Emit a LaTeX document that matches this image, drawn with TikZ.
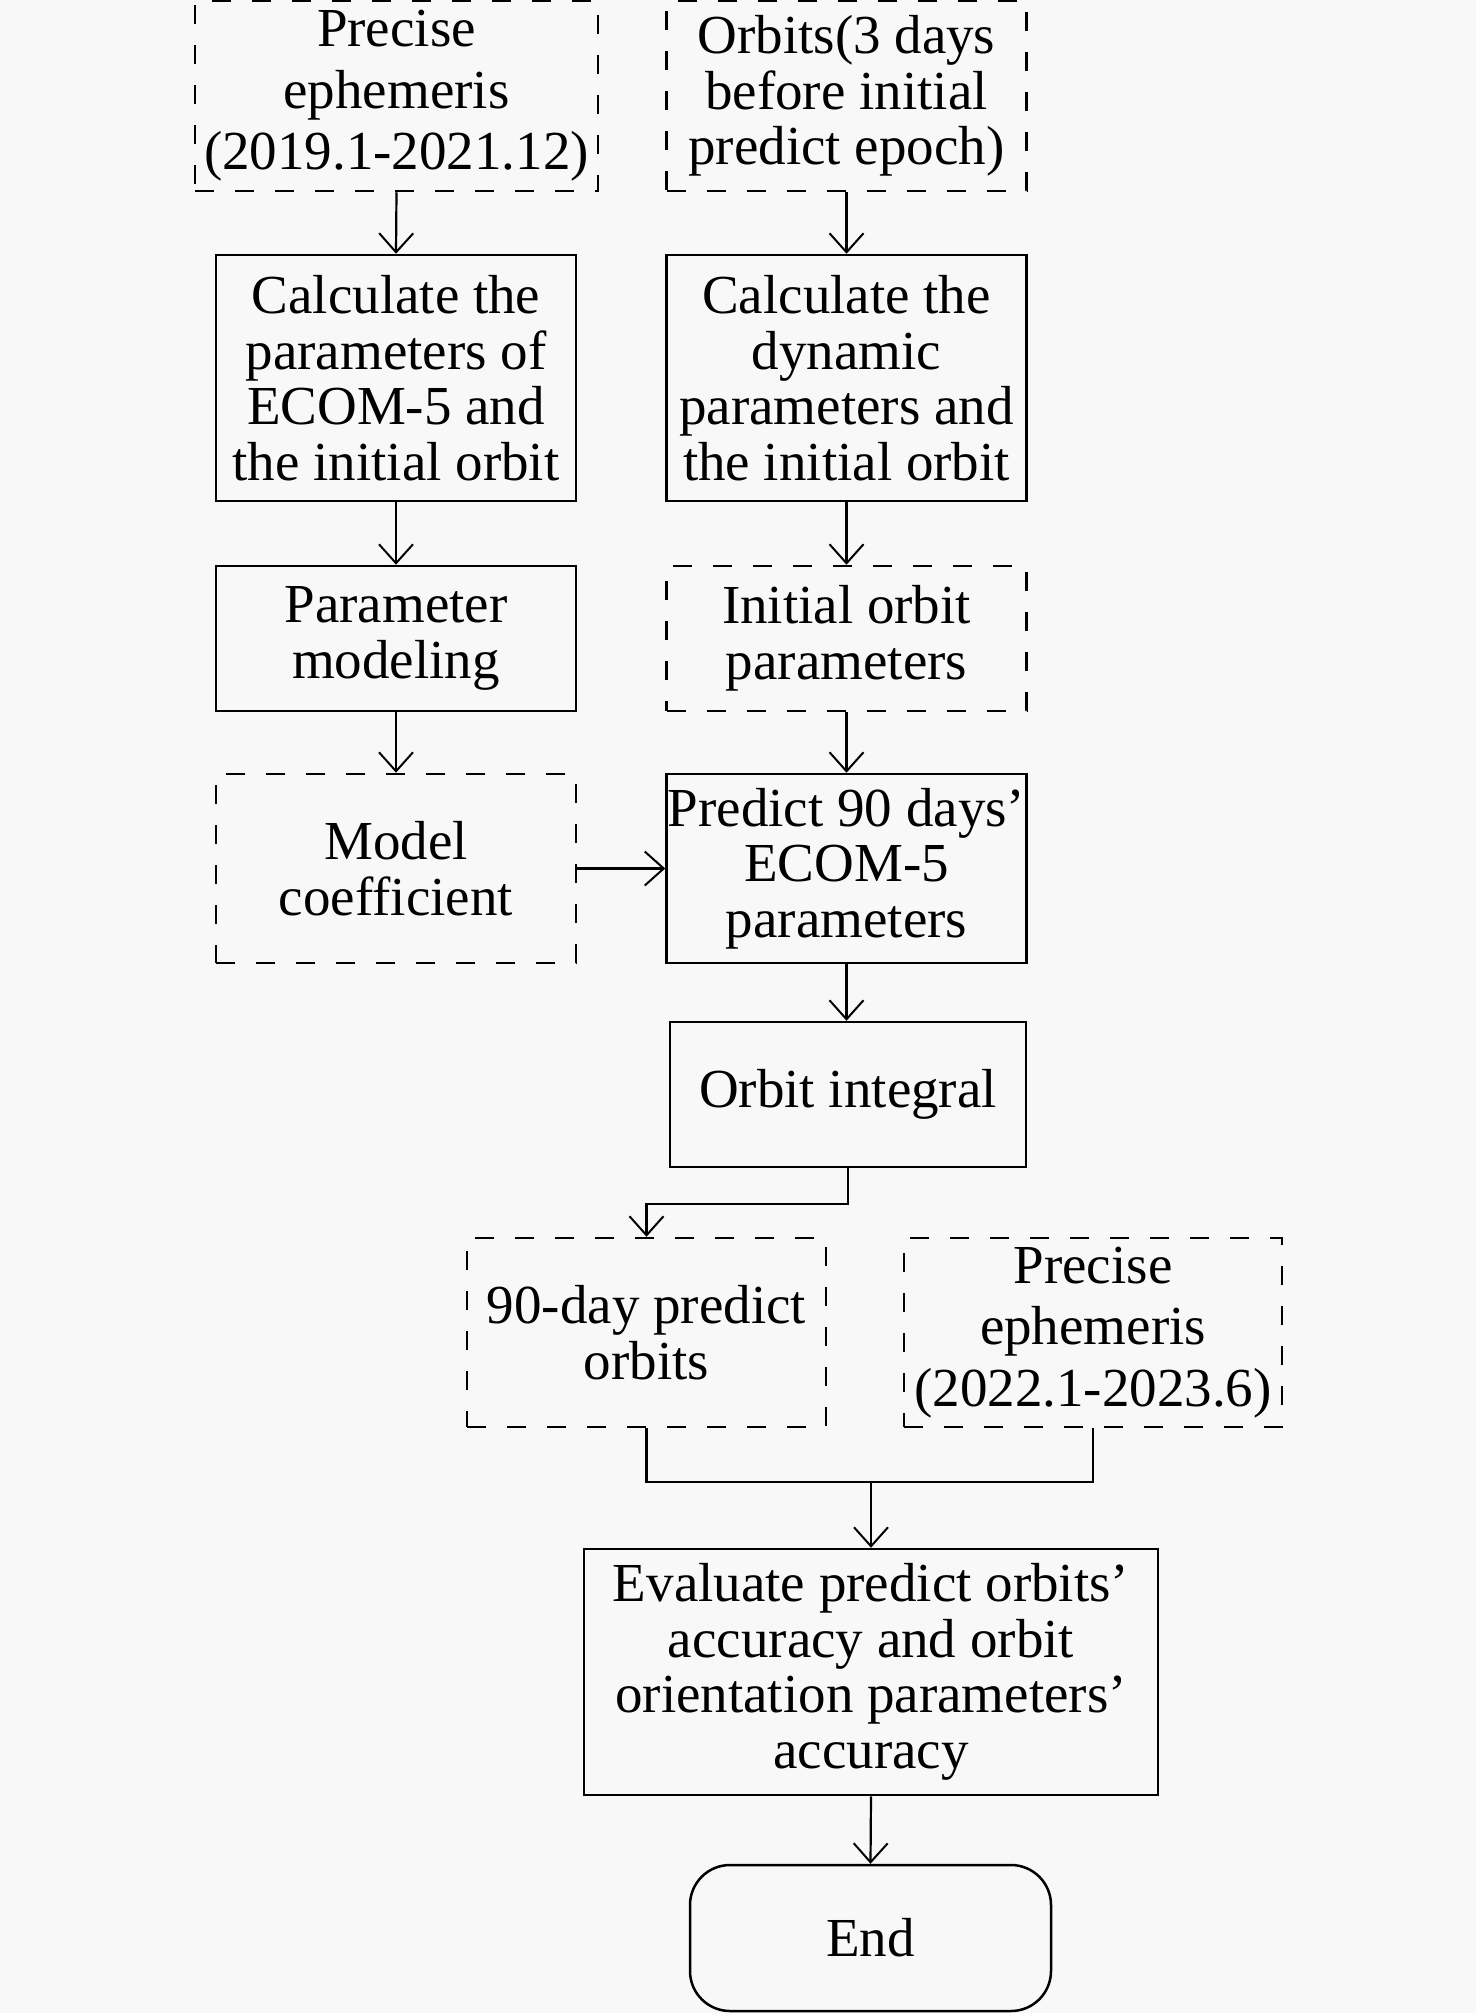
\documentclass[tikz,border=0pt]{standalone}
\usepackage{fontspec}
\setmainfont{Liberation Serif}
\usetikzlibrary{arrows.meta}
\begin{document}
\begin{tikzpicture}[x=1pt,y=-1pt,
  box/.style={draw=black,line width=2.5pt,rectangle,inner sep=0pt,align=center,
    font=\fontsize{55pt}{55.5pt}\selectfont},
  dbox/.style={box,dash pattern=on 19pt off 21pt},
  wide/.style={font=\fontsize{55pt}{61.5pt}\selectfont},
  arr/.style={line width=2.2pt,-{Straight Barb[length=19pt,width=34pt,line width=2pt]}},
  ln/.style={line width=2.2pt}]
\fill[fill={rgb,255:red,248;green,248;blue,248}] (0,0) rectangle (1476,2013);
\useasboundingbox (0,0) rectangle (1476,2013);

\node[dbox,wide,minimum width=403pt,minimum height=190pt] (pe1) at (396.5,96) {Precise\\ephemeris\\(2019.1-2021.12)};
\node[dbox,minimum width=360pt,minimum height=190pt] (orb) at (846.5,96) {Orbits(3 days\\before initial\\predict epoch)};
\node[box,minimum width=360pt,minimum height=246pt] (c1) at (396,378) {Calculate the\\parameters of\\ECOM-5 and\\the initial orbit};
\node[box,minimum width=360pt,minimum height=246pt] (c2) at (846.5,378) {Calculate the\\dynamic\\parameters and\\the initial orbit};
\node[box,minimum width=360pt,minimum height=145pt] (pm) at (396,638.5) {Parameter\\modeling};
\node[dbox,minimum width=360pt,minimum height=145pt] (iop) at (846.5,638.5) {Initial orbit\\parameters};
\node[dbox,minimum width=360pt,minimum height=189pt] (mc) at (396,868.5) {Model\\coefficient};
\node[box,minimum width=360pt,minimum height=189pt] (pr) at (846.5,868.5) {Predict 90 days’\\ECOM-5\\parameters};
\node[box,minimum width=356pt,minimum height=145pt] (oi) at (848,1094.5) {Orbit integral};
\node[dbox,minimum width=359pt,minimum height=189pt] (d90) at (646.5,1332.5) {90-day predict\\orbits};
\node[dbox,wide,minimum width=378pt,minimum height=189pt] (pe2) at (1093,1332.5) {Precise\\ephemeris\\(2022.1-2023.6)};
\node[box,minimum width=574pt,minimum height=246pt] (ev) at (871,1672) {Evaluate predict orbits’\\accuracy and orbit\\orientation parameters’\\accuracy};
\node[box,rounded corners=40pt,minimum width=361pt,minimum height=146pt] (end) at (870.5,1938) {End};

\coordinate (j1) at (646.5,1204);
\coordinate (j2) at (871,1482);

\draw[arr] (pe1.south) -- (c1.north);
\draw[arr] (orb.south) -- (c2.north);
\draw[arr] (c1.south) -- (pm.north);
\draw[arr] (c2.south) -- (iop.north);
\draw[arr] (pm.south) -- (mc.north);
\draw[arr] (iop.south) -- (pr.north);
\draw[arr] (mc.east) -- (pr.west);
\draw[arr] (pr.south) -- (pr.south |- oi.north);
\draw[arr] (oi.south) |- (j1) -- (d90.north);
\draw[ln] (d90.south) |- (j2);
\draw[ln] (pe2.south) |- (j2);
\draw[arr] (j2) -- (ev.north);
\draw[arr] (ev.south) -- (end.north);
\end{tikzpicture}
\end{document}
